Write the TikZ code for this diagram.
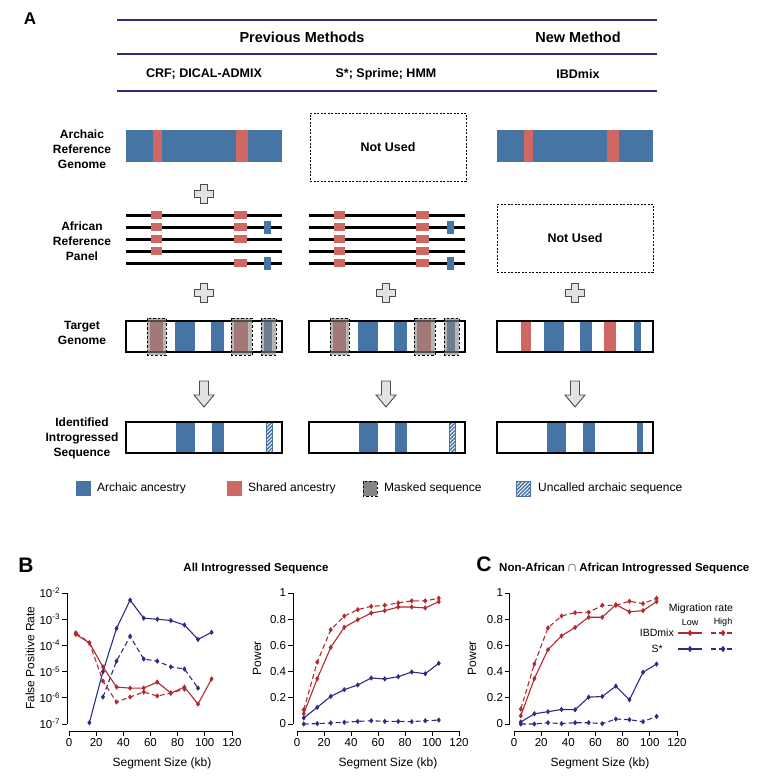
\documentclass[tikz,border=0pt]{standalone}
\usepackage{fontspec}
\setmainfont{Liberation Sans}
\usetikzlibrary{patterns.meta,plotmarks}

\definecolor{navyline}{HTML}{2B2E7E}
\definecolor{archblue}{HTML}{4674A5}
\definecolor{sharedred}{HTML}{CF6762}
\definecolor{maskgray}{HTML}{858585}
\definecolor{signgray}{HTML}{E2E2E2}
\definecolor{plotred}{HTML}{B2292E}
\definecolor{plotblue}{HTML}{2C2D86}

% plus sign and block arrow between the rows
\newcommand{\pluscross}[2]{%
  \draw[signbox] (#1-3.5,#2-9.5) -- ++(7,0) -- ++(0,6) -- ++(6,0) -- ++(0,7) -- ++(-6,0) -- ++(0,6)
    -- ++(-7,0) -- ++(0,-6) -- ++(-6,0) -- ++(0,-7) -- ++(6,0) -- cycle;}
\newcommand{\dnarrow}[2]{%
  \draw[signbox] (#1-4.5,#2) -- ++(9,0) -- ++(0,14) -- ++(5.5,0) -- (#1,#2+26) -- (#1-10,#2+14) -- ++(5.5,0) -- cycle;}

\begin{document}
\begin{tikzpicture}[x=1pt,y=-1pt,
  hdrline/.style={navyline,line width=2.2pt},
  headtxt/.style={font=\bfseries\fontsize{14.5}{17}\selectfont},
  methtxt/.style={font=\bfseries\fontsize{12.5}{15}\selectfont},
  rowlbl/.style={font=\bfseries\fontsize{12}{15}\selectfont,align=center},
  notused/.style={draw,dash pattern=on 2pt off 1.5pt,line width=0.9pt,minimum width=156pt,minimum height=68pt,
    font=\bfseries\fontsize{12.5}{15}\selectfont},
  genome/.style={draw=black,line width=1.8pt},
  panelline/.style={line width=3pt},
  signbox/.style={fill=signgray,draw=black!70,line width=0.9pt},
  maskbox/.style={fill=maskgray,fill opacity=0.6,draw=black,dash pattern=on 2.5pt off 2pt,line width=0.8pt},
  hatchbox/.style={preaction={fill=archblue},pattern={Lines[angle=45,distance=2.6pt,line width=0.9pt]},
    pattern color=white,draw=archblue,line width=0.6pt},
  legtxt/.style={font=\fontsize{12}{14}\selectfont,anchor=west,inner sep=1pt},
  panellbl/.style={font=\bfseries\fontsize{21}{24}\selectfont},
  plottitle/.style={font=\bfseries\fontsize{11.5}{13}\selectfont},
  plotaxis/.style={line width=0.9pt},
  ticklbl/.style={font=\fontsize{11.5}{13}\selectfont},
  axtitle/.style={font=\fontsize{12}{14}\selectfont},
  keytxt/.style={font=\fontsize{10.5}{12}\selectfont,inner sep=1pt},
  lowrate/.style={line width=1.1pt,mark=diamond*,mark size=1.8pt},
  highrate/.style={lowrate,dash pattern=on 5pt off 3pt,mark options={solid}}]
\useasboundingbox (0,0) rectangle (762,777);

%%% panel A
\node[font=\bfseries\fontsize{17}{20}\selectfont] (pa) at (30,19) {A};
\foreach \y in {20,54,91}
  \draw[hdrline] (117,\y) -- (657,\y);
\node[headtxt] (prev) at (302,37) {Previous Methods};
\node[headtxt] (new) at (578,37) {New Method};
\node[methtxt] (crf) at (204,74) {CRF; DICAL-ADMIX};
\node[methtxt] (sstar) at (386,74) {S*; Sprime; HMM};
\node[methtxt] (ibd) at (578,74) {IBDmix};

\node[rowlbl] (arch) at (82,149) {Archaic\\Reference\\Genome};
\node[rowlbl] (afr) at (82,241) {African\\Reference\\Panel};
\node[rowlbl] (tgt) at (82,333) {Target\\Genome};
\node[rowlbl] (ident) at (82,438) {Identified\\Introgressed\\Sequence};

% archaic reference
\foreach \o in {0,371} {
  \fill[archblue] (126+\o,130) rectangle (282+\o,162);
  \fill[sharedred] (153+\o,130) rectangle (162+\o,162);
  \fill[sharedred] (236+\o,130) rectangle (248+\o,162);
}
\node[notused] (nu1) at (388,147) {Not Used};

% african panel
\foreach \o in {0,183}
  \foreach \y in {215,227,239,251,263}
    \draw[panelline] (126+\o,\y) -- (282+\o,\y);
\foreach \y in {215,227,239,251}
  \fill[sharedred] (151,\y-4) rectangle (162,\y+4);
\foreach \y in {215,227,239,263}
  \fill[sharedred] (234,\y-4) rectangle (247,\y+4);
\foreach \y in {215,227,239,251,263} {
  \fill[sharedred] (334,\y-4) rectangle (345,\y+4);
  \fill[sharedred] (416,\y-4) rectangle (429,\y+4);
}
\foreach \y in {227,263} {
  \fill[archblue] (264,\y-6.5) rectangle (271,\y+6.5);
  \fill[archblue] (447,\y-6.5) rectangle (454,\y+6.5);
}
\node[notused] (nu2) at (575,238) {Not Used};

% target genome
\foreach \o in {0,183} {
  \fill[sharedred] (150+\o,321) rectangle (163+\o,352);
  \fill[archblue] (175+\o,321) rectangle (195+\o,352);
  \fill[archblue] (211+\o,321) rectangle (224+\o,352);
  \fill[sharedred] (234+\o,321) rectangle (248+\o,352);
  \fill[archblue] (264+\o,321) rectangle (272+\o,352);
}
\fill[sharedred] (521,321) rectangle (531,352);
\fill[archblue] (544,321) rectangle (564,352);
\fill[archblue] (580,321) rectangle (592,352);
\fill[sharedred] (604,321) rectangle (616,352);
\fill[archblue] (634,321) rectangle (641,352);
\foreach \o in {0,183,371}
  \draw[genome] (126+\o,321) rectangle (282+\o,352);
\foreach \o in {0,183} {
  \draw[maskbox] (147+\o,318) rectangle (166+\o,355);
  \draw[maskbox] (231+\o,318) rectangle (252+\o,355);
  \draw[maskbox] (261+\o,318) rectangle (276+\o,355);
}

% identified sequence
\foreach \o in {0,183,371} {
  \fill[archblue] (176+\o,422) rectangle (195+\o,453);
  \fill[archblue] (212+\o,422) rectangle (224+\o,453);
}
\fill[archblue] (637,422) rectangle (643,453);
\foreach \o in {0,183}
  \path[hatchbox] (266+\o,422) rectangle (272+\o,453);
\foreach \o in {0,183,371}
  \draw[genome] (126+\o,422) rectangle (282+\o,453);

% signs
\pluscross{204}{194}
\foreach \x in {204,386,575} {
  \pluscross{\x}{293}
  \dnarrow{\x}{381}
}

% legend
\fill[archblue] (76,481) rectangle (91,496);
\node[legtxt] (lgarch) at (96,488) {Archaic ancestry};
\fill[sharedred] (227,481) rectangle (242,496);
\node[legtxt] (lgshared) at (247,488) {Shared ancestry};
\draw[fill=maskgray,draw=black,dash pattern=on 2.5pt off 2pt,line width=0.9pt] (363,481) rectangle (377,496);
\node[legtxt] (lgmask) at (383,488) {Masked sequence};
\path[hatchbox] (516,481) rectangle (530,496);
\node[legtxt] (lgunc) at (537,488) {Uncalled archaic sequence};

%%% panel B
\node[panellbl] (pb) at (26,565) {B};
\node[plottitle] (ttlb) at (256,569) {All Introgressed Sequence};

% false positive rate, log scale
\begin{scope}[shift={(69pt,-724pt)},x=1.358pt,y=26.2pt]
  \draw[plotaxis] (-1.5,0) -- (-1.5,5);
  \foreach \i/\e in {0/7,1/6,2/5,3/4,4/3,5/2}
    \draw[plotaxis] (-1.5,\i) -- ++(-5pt,0) node[left,ticklbl,inner sep=1.5pt] {10\textsuperscript{-\e}};
  \draw[plotaxis] (0,-0.27) -- (120,-0.27);
  \foreach \t in {0,20,...,120}
    \draw[plotaxis] (\t,-0.27) -- ++(0,-5pt) node[below,ticklbl,inner sep=2pt] {\t};
  \draw[plotblue,lowrate] plot coordinates {(15,0.05) (25,2.0) (35,3.65) (45,4.73) (55,4.04) (65,4.0) (75,3.95) (85,3.78) (95,3.23) (105,3.5)};
  \draw[plotblue,highrate] plot coordinates {(25,1.03) (35,2.4) (45,3.35) (55,2.48) (65,2.4) (75,2.18) (85,2.1) (95,1.37)};
  \draw[plotred,lowrate] plot coordinates {(5,3.42) (15,3.1) (25,2.18) (35,1.41) (45,1.37) (55,1.37) (65,1.6) (75,1.18) (85,1.41) (95,0.76) (105,1.72)};
  \draw[plotred,highrate] plot coordinates {(5,3.48) (15,3.1) (25,1.64) (35,0.84) (45,1.03) (55,1.22) (65,1.07) (75,1.18) (85,1.33)};
\end{scope}
\node[axtitle,rotate=90] (fprlab) at (30,658) {False Positive Rate};
\node[axtitle] (segb1) at (162,763) {Segment Size (kb)};

% power, all sequence
\begin{scope}[shift={(297pt,-724pt)},x=1.35pt,y=131pt]
  \draw[plotaxis] (-3,0) -- (-3,1);
  \foreach \p in {0,0.2,0.4,0.6,0.8,1}
    \draw[plotaxis] (-3,\p) -- ++(-5pt,0) node[left,ticklbl,inner sep=1.5pt] {\p};
  \draw[plotaxis] (0,-0.053) -- (120,-0.053);
  \foreach \t in {0,20,...,120}
    \draw[plotaxis] (\t,-0.053) -- ++(0,-5pt) node[below,ticklbl,inner sep=2pt] {\t};
  \draw[plotred,highrate] plot coordinates {(5,0.109) (15,0.473) (25,0.72) (35,0.824) (45,0.873) (55,0.898) (65,0.906) (75,0.924) (85,0.94) (95,0.94) (105,0.96)};
  \draw[plotred,lowrate] plot coordinates {(5,0.079) (15,0.346) (25,0.585) (35,0.738) (45,0.796) (55,0.847) (65,0.865) (75,0.893) (85,0.893) (95,0.886) (105,0.934)};
  \draw[plotblue,lowrate] plot coordinates {(5,0.046) (15,0.127) (25,0.211) (35,0.262) (45,0.298) (55,0.351) (65,0.344) (75,0.361) (85,0.397) (95,0.384) (105,0.463)};
  \draw[plotblue,highrate] plot coordinates {(5,0) (15,0.003) (25,0.008) (35,0.013) (45,0.02) (55,0.025) (65,0.02) (75,0.02) (85,0.018) (95,0.025) (105,0.03)};
\end{scope}
\node[axtitle,rotate=90] (powb) at (257,658) {Power};
\node[axtitle] (segb2) at (388,763) {Segment Size (kb)};

%%% panel C
\node[panellbl] (pc) at (484,564) {C};
\node[plottitle,anchor=west,inner sep=0pt] (ttlc) at (499,569) {Non-African $\cap$ African Introgressed Sequence};
\begin{scope}[shift={(514pt,-724pt)},x=1.358pt,y=131pt]
  \draw[plotaxis] (-3,0) -- (-3,1);
  \foreach \p in {0,0.2,0.4,0.6,0.8,1}
    \draw[plotaxis] (-3,\p) -- ++(-5pt,0) node[left,ticklbl,inner sep=1.5pt] {\p};
  \draw[plotaxis] (0,-0.053) -- (120,-0.053);
  \foreach \t in {0,20,...,120}
    \draw[plotaxis] (\t,-0.053) -- ++(0,-5pt) node[below,ticklbl,inner sep=2pt] {\t};
  \draw[plotred,highrate] plot coordinates {(5,0.114) (15,0.458) (25,0.734) (35,0.825) (45,0.85) (55,0.853) (65,0.906) (75,0.906) (85,0.937) (95,0.919) (105,0.96)};
  \draw[plotred,lowrate] plot coordinates {(5,0.063) (15,0.347) (25,0.567) (35,0.673) (45,0.737) (55,0.815) (65,0.815) (75,0.911) (85,0.856) (95,0.866) (105,0.934)};
  \draw[plotblue,lowrate] plot coordinates {(5,0.015) (15,0.078) (25,0.094) (35,0.111) (45,0.109) (55,0.205) (65,0.21) (75,0.289) (85,0.185) (95,0.395) (105,0.458)};
  \draw[plotblue,highrate] plot coordinates {(5,0) (15,0) (25,0.01) (35,0.003) (45,0.01) (55,0.01) (65,0.003) (75,0.038) (85,0.033) (95,0.018) (105,0.058)};
\end{scope}
\node[axtitle,rotate=90] (powc) at (472,658) {Power};
\node[axtitle] (segc) at (600,763) {Segment Size (kb)};

% key for panel C
\node[keytxt] (migr) at (701,609) {Migration rate};
\node[keytxt,font=\fontsize{9}{10}\selectfont] (lowlab) at (690,622) {Low};
\node[keytxt,font=\fontsize{9}{10}\selectfont] (highlab) at (723,622) {High};
\node[keytxt,anchor=east] (ibdlab) at (675,633) {IBDmix};
\node[keytxt,anchor=east] (slab) at (664,649) {S*};
\draw[plotred,lowrate,mark size=2.3pt,mark indices={2}] plot coordinates {(678,633) (690,633) (702,633)};
\draw[plotred,highrate,mark size=2.3pt,mark indices={2}] plot coordinates {(711,633) (723,633) (735,633)};
\draw[plotblue,lowrate,mark size=2.3pt,mark indices={2}] plot coordinates {(678,649) (690,649) (702,649)};
\draw[plotblue,highrate,mark size=2.3pt,mark indices={2}] plot coordinates {(711,649) (723,649) (735,649)};
\end{tikzpicture}
\end{document}
